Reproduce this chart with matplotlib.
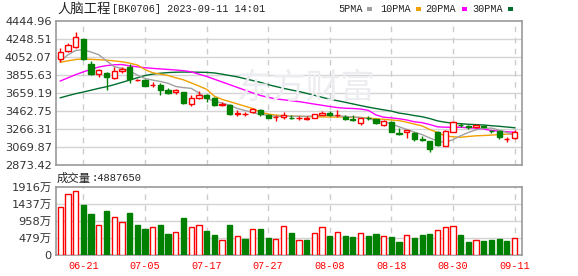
import matplotlib
matplotlib.use("Agg")
import matplotlib.pyplot as plt
from matplotlib.patches import Rectangle
import numpy as np

# ---------------- data ----------------
dates = ["06-16", "06-19", "06-20", "06-21", "06-26", "06-27", "06-28", "06-29", "06-30",
         "07-03", "07-04", "07-05", "07-06", "07-07", "07-10", "07-11", "07-12", "07-13", "07-14",
         "07-17", "07-18", "07-19", "07-20", "07-21", "07-24", "07-25", "07-26", "07-27", "07-28",
         "07-31", "08-01", "08-02", "08-03", "08-04", "08-07", "08-08", "08-09", "08-10", "08-11",
         "08-14", "08-15", "08-16", "08-17", "08-18", "08-21", "08-22", "08-23", "08-24", "08-25",
         "08-28", "08-29", "08-30", "08-31", "09-01", "09-04", "09-05", "09-06", "09-07", "09-08",
         "09-11"]
tick_labels = ["06-21", "07-05", "07-17", "07-27", "08-08", "08-18", "08-30", "09-11"]

opens = [4028, 4120, 4161, 4249, 3980, 3862, 3880, 3818, 3903, 3947,
         3796, 3796, 3742, 3751, 3696, 3667, 3670, 3541, 3600, 3637,
         3600, 3530, 3526, 3432, 3425, 3453, 3478, 3419, 3395, 3397,
         3388, 3384, 3379, 3390, 3423, 3438, 3420, 3392, 3370, 3327,
         3390, 3371, 3305, 3342, 3220, 3239, 3224, 3152, 3135, 3236,
         3085, 3236, 3314, 3295, 3285, 3297, 3245, 3243, 3153, 3170]
highs = [4154, 4209, 4323, 4252, 4013, 3925, 3885, 3943, 3947, 3976,
         3812, 3810, 3777, 3766, 3711, 3700, 3674, 3637, 3681, 3644,
         3611, 3563, 3534, 3471, 3449, 3500, 3480, 3434, 3416, 3453,
         3416, 3405, 3405, 3434, 3464, 3460, 3471, 3416, 3423, 3386,
         3405, 3371, 3364, 3349, 3275, 3257, 3231, 3187, 3135, 3247,
         3255, 3351, 3332, 3312, 3312, 3305, 3255, 3243, 3178, 3255]
lows = [4002, 4112, 4150, 4020, 3855, 3836, 3696, 3815, 3880, 3773,
        3785, 3733, 3729, 3637, 3644, 3652, 3534, 3519, 3597, 3563,
        3522, 3519, 3423, 3405, 3405, 3445, 3412, 3386, 3353, 3379,
        3371, 3368, 3360, 3386, 3416, 3408, 3393, 3364, 3349, 3312,
        3360, 3316, 3294, 3239, 3202, 3165, 3139, 3135, 3012, 3082,
        3078, 3236, 3293, 3262, 3274, 3285, 3224, 3162, 3128, 3155]
closes = [4105, 4187, 4275, 4028, 3862, 3910, 3829, 3903, 3921, 3810,
          3802, 3740, 3750, 3696, 3659, 3689, 3552, 3607, 3637, 3600,
          3526, 3535, 3434, 3438, 3430, 3482, 3434, 3386, 3398, 3423,
          3383, 3387, 3382, 3427, 3441, 3416, 3424, 3372, 3366, 3386,
          3383, 3334, 3357, 3239, 3216, 3257, 3155, 3150, 3051, 3093,
          3243, 3343, 3310, 3291, 3305, 3291, 3241, 3178, 3157, 3239]
volumes = [1352, 1718, 1803, 1408, 1155, 845, 1239, 1061, 930, 1183,
           845, 732, 789, 845, 592, 648, 1042, 789, 845, 676,
           563, 423, 845, 535, 451, 732, 732, 479, 451, 817,
           620, 423, 423, 620, 789, 535, 648, 535, 507, 620,
           535, 592, 535, 507, 366, 563, 479, 563, 592, 704,
           789, 817, 563, 366, 423, 394, 423, 451, 394, 488.765]

ma5 = [4010, 4076, 4124, 4131, 4106, 4076, 4010, 3947, 3928, 3899,
       3855, 3818, 3800, 3785, 3765, 3730, 3718, 3710, 3660, 3600,
       3570, 3550, 3526, 3490, 3468, 3445, 3427, 3415, 3405, 3405,
       3405, 3405, 3405, 3408, 3415, 3416, 3410, 3405, 3398, 3392,
       3378, 3360, 3342, 3323, 3290, 3262, 3232, 3205, 3168, 3135,
       3120, 3150, 3192, 3228, 3258, 3272, 3276, 3255, 3228, 3200]
ma10 = [3995, 4010, 4025, 4030, 4027, 4022, 4018, 4010, 4000, 3985,
        3965, 3915, 3880, 3865, 3850, 3825, 3803, 3770, 3735, 3700,
        3625, 3590, 3565, 3540, 3515, 3490, 3450, 3430, 3418, 3412,
        3406, 3405, 3402, 3400, 3398, 3397, 3397, 3397, 3396, 3392,
        3385, 3378, 3372, 3365, 3358, 3340, 3320, 3300, 3260, 3228,
        3190, 3182, 3176, 3185, 3192, 3195, 3200, 3205, 3210, 3213]
ma20 = [3790, 3825, 3860, 3890, 3918, 3943, 3958, 3967, 3970, 3955,
        3945, 3935, 3928, 3922, 3916, 3910, 3903, 3890, 3865, 3840,
        3810, 3780, 3750, 3720, 3690, 3660, 3632, 3612, 3595, 3585,
        3575, 3565, 3552, 3538, 3525, 3512, 3500, 3493, 3490, 3484,
        3470, 3420, 3395, 3388, 3378, 3365, 3345, 3335, 3315, 3290,
        3286, 3286, 3285, 3280, 3276, 3265, 3250, 3243, 3236, 3231]
ma30 = [3607, 3630, 3652, 3670, 3690, 3710, 3728, 3750, 3775, 3800,
        3825, 3850, 3865, 3875, 3882, 3886, 3888, 3887, 3886, 3884,
        3878, 3865, 3850, 3835, 3815, 3795, 3775, 3750, 3730, 3710,
        3692, 3676, 3655, 3635, 3612, 3592, 3575, 3558, 3540, 3522,
        3505, 3490, 3475, 3462, 3440, 3428, 3413, 3400, 3380, 3355,
        3340, 3330, 3324, 3318, 3314, 3310, 3302, 3296, 3288, 3280]

price_ticks = [2873.42, 3069.87, 3266.31, 3462.75, 3659.19, 3855.63, 4052.07, 4248.51, 4444.96]
vol_ticks = [0, 479, 958, 1437, 1916]
last_volume = 4887650

# ---------------- styling ----------------
W, H = 578, 276
RED = "#ff0000"
GREEN = "#008000"
GRID = "#d4d4d4"
SPINE = "#999999"
TXT = "#333333"
MA_COLORS = ["#a0a0a0", "#f0a000", "#ff00ff", "#006e2e"]

fig = plt.figure(figsize=(W / 100, H / 100), dpi=100)
fig.patch.set_facecolor("white")


def fx(px):
    return px / W


def fy(py):
    return 1 - py / H


ax = fig.add_axes([fx(56), fy(165), fx(522) - fx(56), fy(21) - fy(165)])
axv = fig.add_axes([fx(56), fy(255), fx(522) - fx(56), fy(187) - fy(255)])

x = np.arange(len(dates))
o = np.array(opens, float)
h = np.array(highs, float)
l = np.array(lows, float)
c = np.array(closes, float)
up = c >= o
xlim = (-0.56, len(dates) - 0.03)

# watermark
fig.text(fx(306), fy(88), "东方财富", family=["Noto Sans CJK SC"], fontsize=25,
         color="#ededf1", ha="center", va="center", zorder=0)

# ---------------- price panel ----------------
ax.set_facecolor("none")
ax.set_xlim(*xlim)
ax.set_ylim(price_ticks[0], price_ticks[-1])
for t in price_ticks[1:-1]:
    ax.axhline(t, color=GRID, lw=1.0, zorder=1)
tick_pos = [dates.index(t) for t in tick_labels]
for p in tick_pos:
    ax.axvline(p, color="#cccccc", lw=1.0, ls=(0, (4, 4)), zorder=1)
    axv.axvline(p, color="#cccccc", lw=1.0, ls=(0, (4, 4)), zorder=1)

for vals, col in zip([ma30, ma20, ma10, ma5], MA_COLORS[::-1]):
    ax.plot(x, vals, color=col, lw=1.0, zorder=2)

bw = 0.68
body_lo = np.minimum(o, c)
body_hi = np.maximum(o, c)
hts = np.maximum(body_hi - body_lo, 1.0)
# wicks
ax.vlines(x[up], l[up], body_lo[up], color=RED, lw=1.0, zorder=3)
ax.vlines(x[up], body_hi[up], h[up], color=RED, lw=1.0, zorder=3)
ax.vlines(x[~up], l[~up], h[~up], color=GREEN, lw=1.0, zorder=3)
ax.bar(x[up], hts[up], bottom=body_lo[up], width=bw, facecolor="white",
       edgecolor=RED, linewidth=1.0, zorder=4)
ax.bar(x[~up], hts[~up], bottom=body_lo[~up], width=bw, facecolor=GREEN,
       edgecolor=GREEN, linewidth=1.0, zorder=4)

ax.set_yticks(price_ticks)
ax.set_yticklabels([f"{t:.2f}" for t in price_ticks], fontsize=8.2, color=TXT,
                   family="DejaVu Sans")
ax.set_xticks([])
ax.tick_params(axis="y", length=0, pad=3)
for s in ax.spines.values():
    s.set_color(SPINE)
    s.set_linewidth(1.2)

# ---------------- volume panel ----------------
axv.set_facecolor("none")
axv.set_xlim(*xlim)
axv.set_ylim(vol_ticks[0], vol_ticks[-1])
for t in vol_ticks[1:-1]:
    axv.axhline(t, color=GRID, lw=1.0, zorder=1)
vol = np.array(volumes, float)
prev_c = np.concatenate([[c[0] - 1], c[:-1]])
vup = c >= prev_c
axv.bar(x[vup], vol[vup], width=bw, facecolor="white", edgecolor=RED,
        linewidth=1.0, zorder=3)
axv.bar(x[~vup], vol[~vup], width=bw, facecolor=GREEN, edgecolor=GREEN,
        linewidth=1.0, zorder=3)
axv.set_yticks(vol_ticks)
axv.set_yticklabels([("0" if t == 0 else f"{t}万") for t in vol_ticks], fontsize=8.2,
                    color=TXT, family=["DejaVu Sans", "Noto Sans CJK SC"])
axv.set_xticks(tick_pos)
axv.set_xticklabels(tick_labels, fontsize=7.3, color=RED, family="Liberation Mono")
axv.tick_params(axis="both", length=0)
axv.tick_params(axis="y", pad=3)
axv.tick_params(axis="x", pad=4)
for s in axv.spines.values():
    s.set_color(SPINE)
    s.set_linewidth(1.2)

# ---------------- header texts ----------------
fig.text(fx(57), fy(8.5), "人脑工程", family=["Noto Sans CJK SC"], fontsize=9.6,
         color="#222222", va="center", ha="left")
fig.text(fx(112), fy(8.5), "[BK0706] 2023-09-11 14:01", family="Liberation Mono",
         fontsize=7.3, color="#222222", va="center", ha="left")

legend_items = [("5PMA", 338, 367), ("10PMA", 380, 416), ("20PMA", 425, 462), ("30PMA", 472, 508)]
for (lab, tx, mx), col in zip(legend_items, MA_COLORS):
    fig.text(fx(tx), fy(9), lab, family="Liberation Mono", fontsize=7.3,
             color="#222222", va="center", ha="left")
    fig.add_artist(Rectangle((fx(mx), fy(10.5)), 5 / W, 3 / H, transform=fig.transFigure,
                             facecolor=col, edgecolor="none"))

fig.text(fx(57), fy(178), "成交量", family=["Noto Sans CJK SC"], fontsize=8.2,
         color="#222222", va="center", ha="left")
fig.text(fx(91), fy(178), f":{last_volume}", family="Liberation Mono", fontsize=7.5,
         color="#222222", va="center", ha="left")

fig.savefig("out.png", dpi=100, facecolor="white")
